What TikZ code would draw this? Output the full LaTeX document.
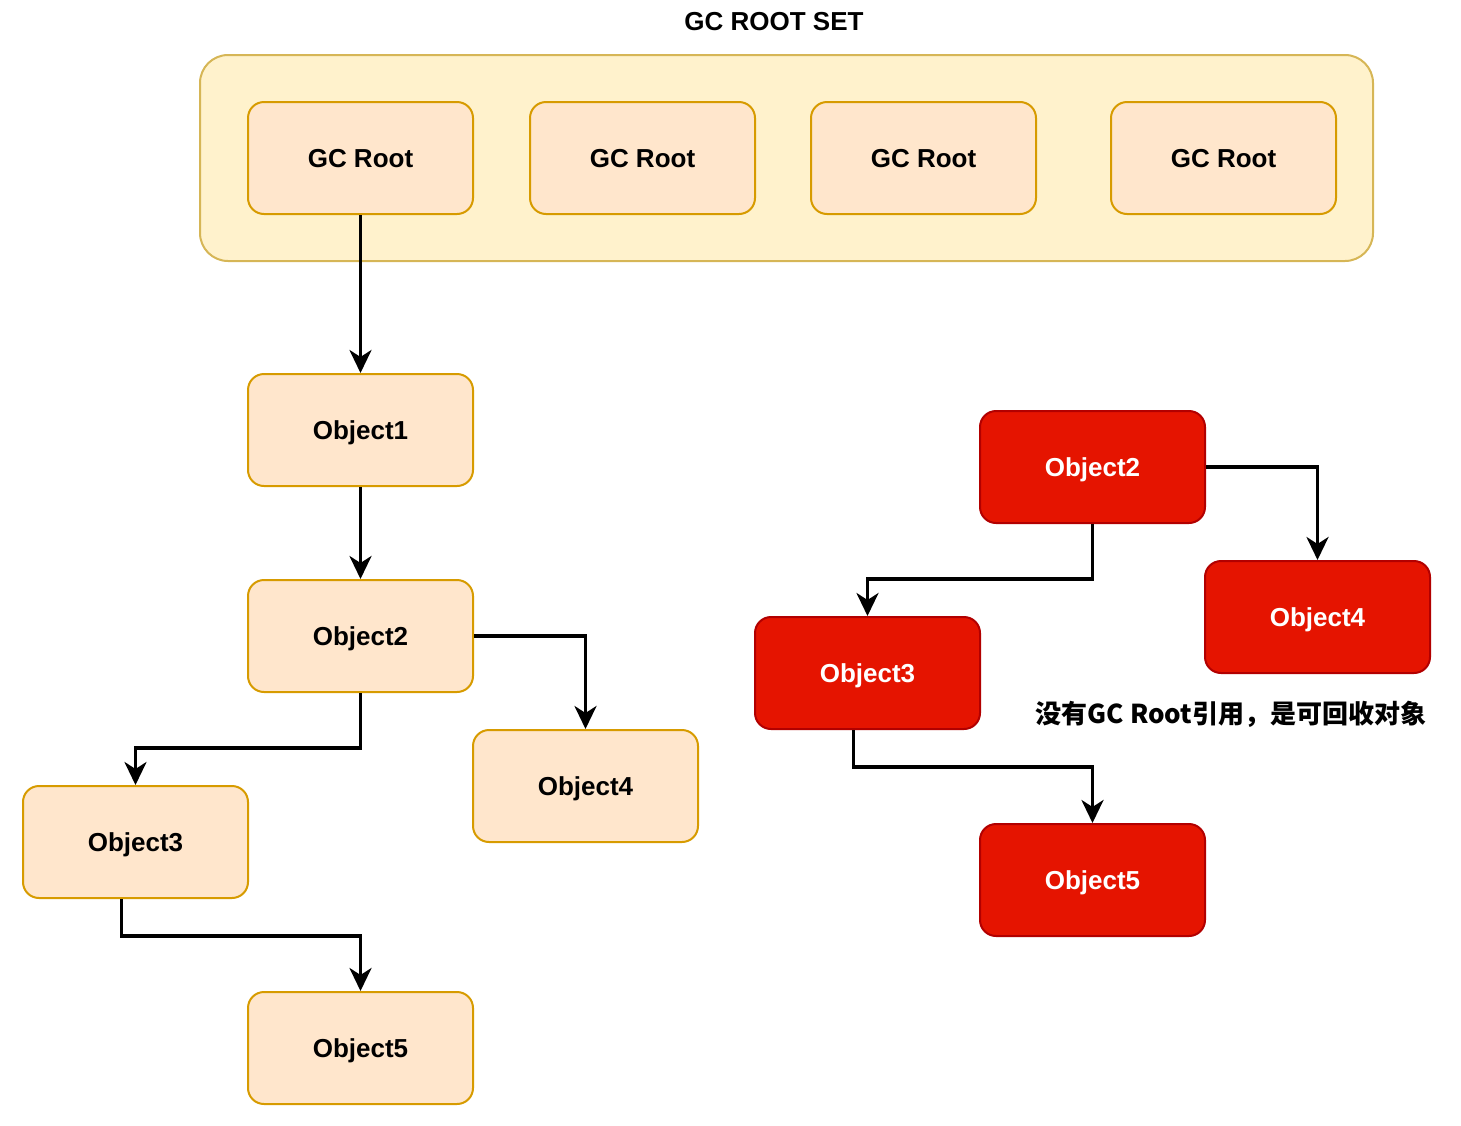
\documentclass[tikz,border=0pt]{standalone}
\usepackage{fontspec}
\setmainfont{Liberation Sans}
\newfontfamily\cjk{Noto Sans CJK SC}
\usetikzlibrary{arrows.meta}
\definecolor{orfill}{HTML}{FFE6CC}
\definecolor{orline}{HTML}{D79B00}
\definecolor{setfill}{HTML}{FFF2CC}
\definecolor{setline}{HTML}{D6B656}
\definecolor{redfill}{HTML}{E51400}
\definecolor{redline}{HTML}{B20000}
\tikzset{
  objbox/.style={rectangle, rounded corners=16pt, minimum width=225pt, minimum height=112pt, inner sep=0pt,
    line width=2pt, text depth=0pt, font=\fontsize{26}{30}\selectfont\bfseries},
  okbox/.style={objbox, draw=orline, fill=orfill, text=black},
  garbox/.style={objbox, draw=redline, fill=redfill, text=white},
  arr/.style={line width=3.5pt, -{Stealth[length=23pt,width=22pt,inset=7pt]}}
}
\begin{document}
\begin{tikzpicture}[x=1pt,y=-1pt]
\useasboundingbox (0,0) rectangle (1461,1125);
\node[font=\fontsize{26}{30}\selectfont\bfseries] (title) at (774,22) {GC ROOT SET};
\node[rectangle, rounded corners=28pt, draw=setline, fill=setfill, line width=2pt,
  minimum width=1173pt, minimum height=206pt, inner sep=0pt] (set) at (786.5,158) {};
\node[okbox] (gr1) at (360.5,158) {GC Root};
\node[okbox] (gr2) at (642.5,158) {GC Root};
\node[okbox] (gr3) at (923.5,158) {GC Root};
\node[okbox] (gr4) at (1223.5,158) {GC Root};
\node[okbox] (o1) at (360.5,430) {Object1};
\node[okbox] (o2) at (360.5,636) {Object2};
\node[okbox] (o4) at (585.5,786) {Object4};
\node[okbox] (o3) at (135.5,842) {Object3};
\node[okbox] (o5) at (360.5,1048) {Object5};
\node[garbox] (r2) at (1092.5,467) {Object2};
\node[garbox] (r4) at (1317.5,617) {Object4};
\node[garbox] (r3) at (867.5,673) {Object3};
\node[garbox] (r5) at (1092.5,880) {Object5};
\node[font=\fontsize{26}{30}\selectfont\bfseries\cjk, anchor=center] (note) at (1231,714) {没有GC Root引用，是可回收对象};
\draw[arr] (gr1.south) -- (o1.north);
\draw[arr] (o1.south) -- (o2.north);
\draw[arr] (o2.east) -| (o4.north);
\draw[arr] (o2.south) -- ++(0,55) -| (o3.north);
\draw[arr] ([xshift=-14pt]o3.south) -- ++(0,37) -| (o5.north);
\draw[arr] (r2.east) -| (r4.north);
\draw[arr] (r2.south) -- ++(0,55) -| (r3.north);
\draw[arr] ([xshift=-14pt]r3.south) -- ++(0,37) -| (r5.north);
\end{tikzpicture}
\end{document}
